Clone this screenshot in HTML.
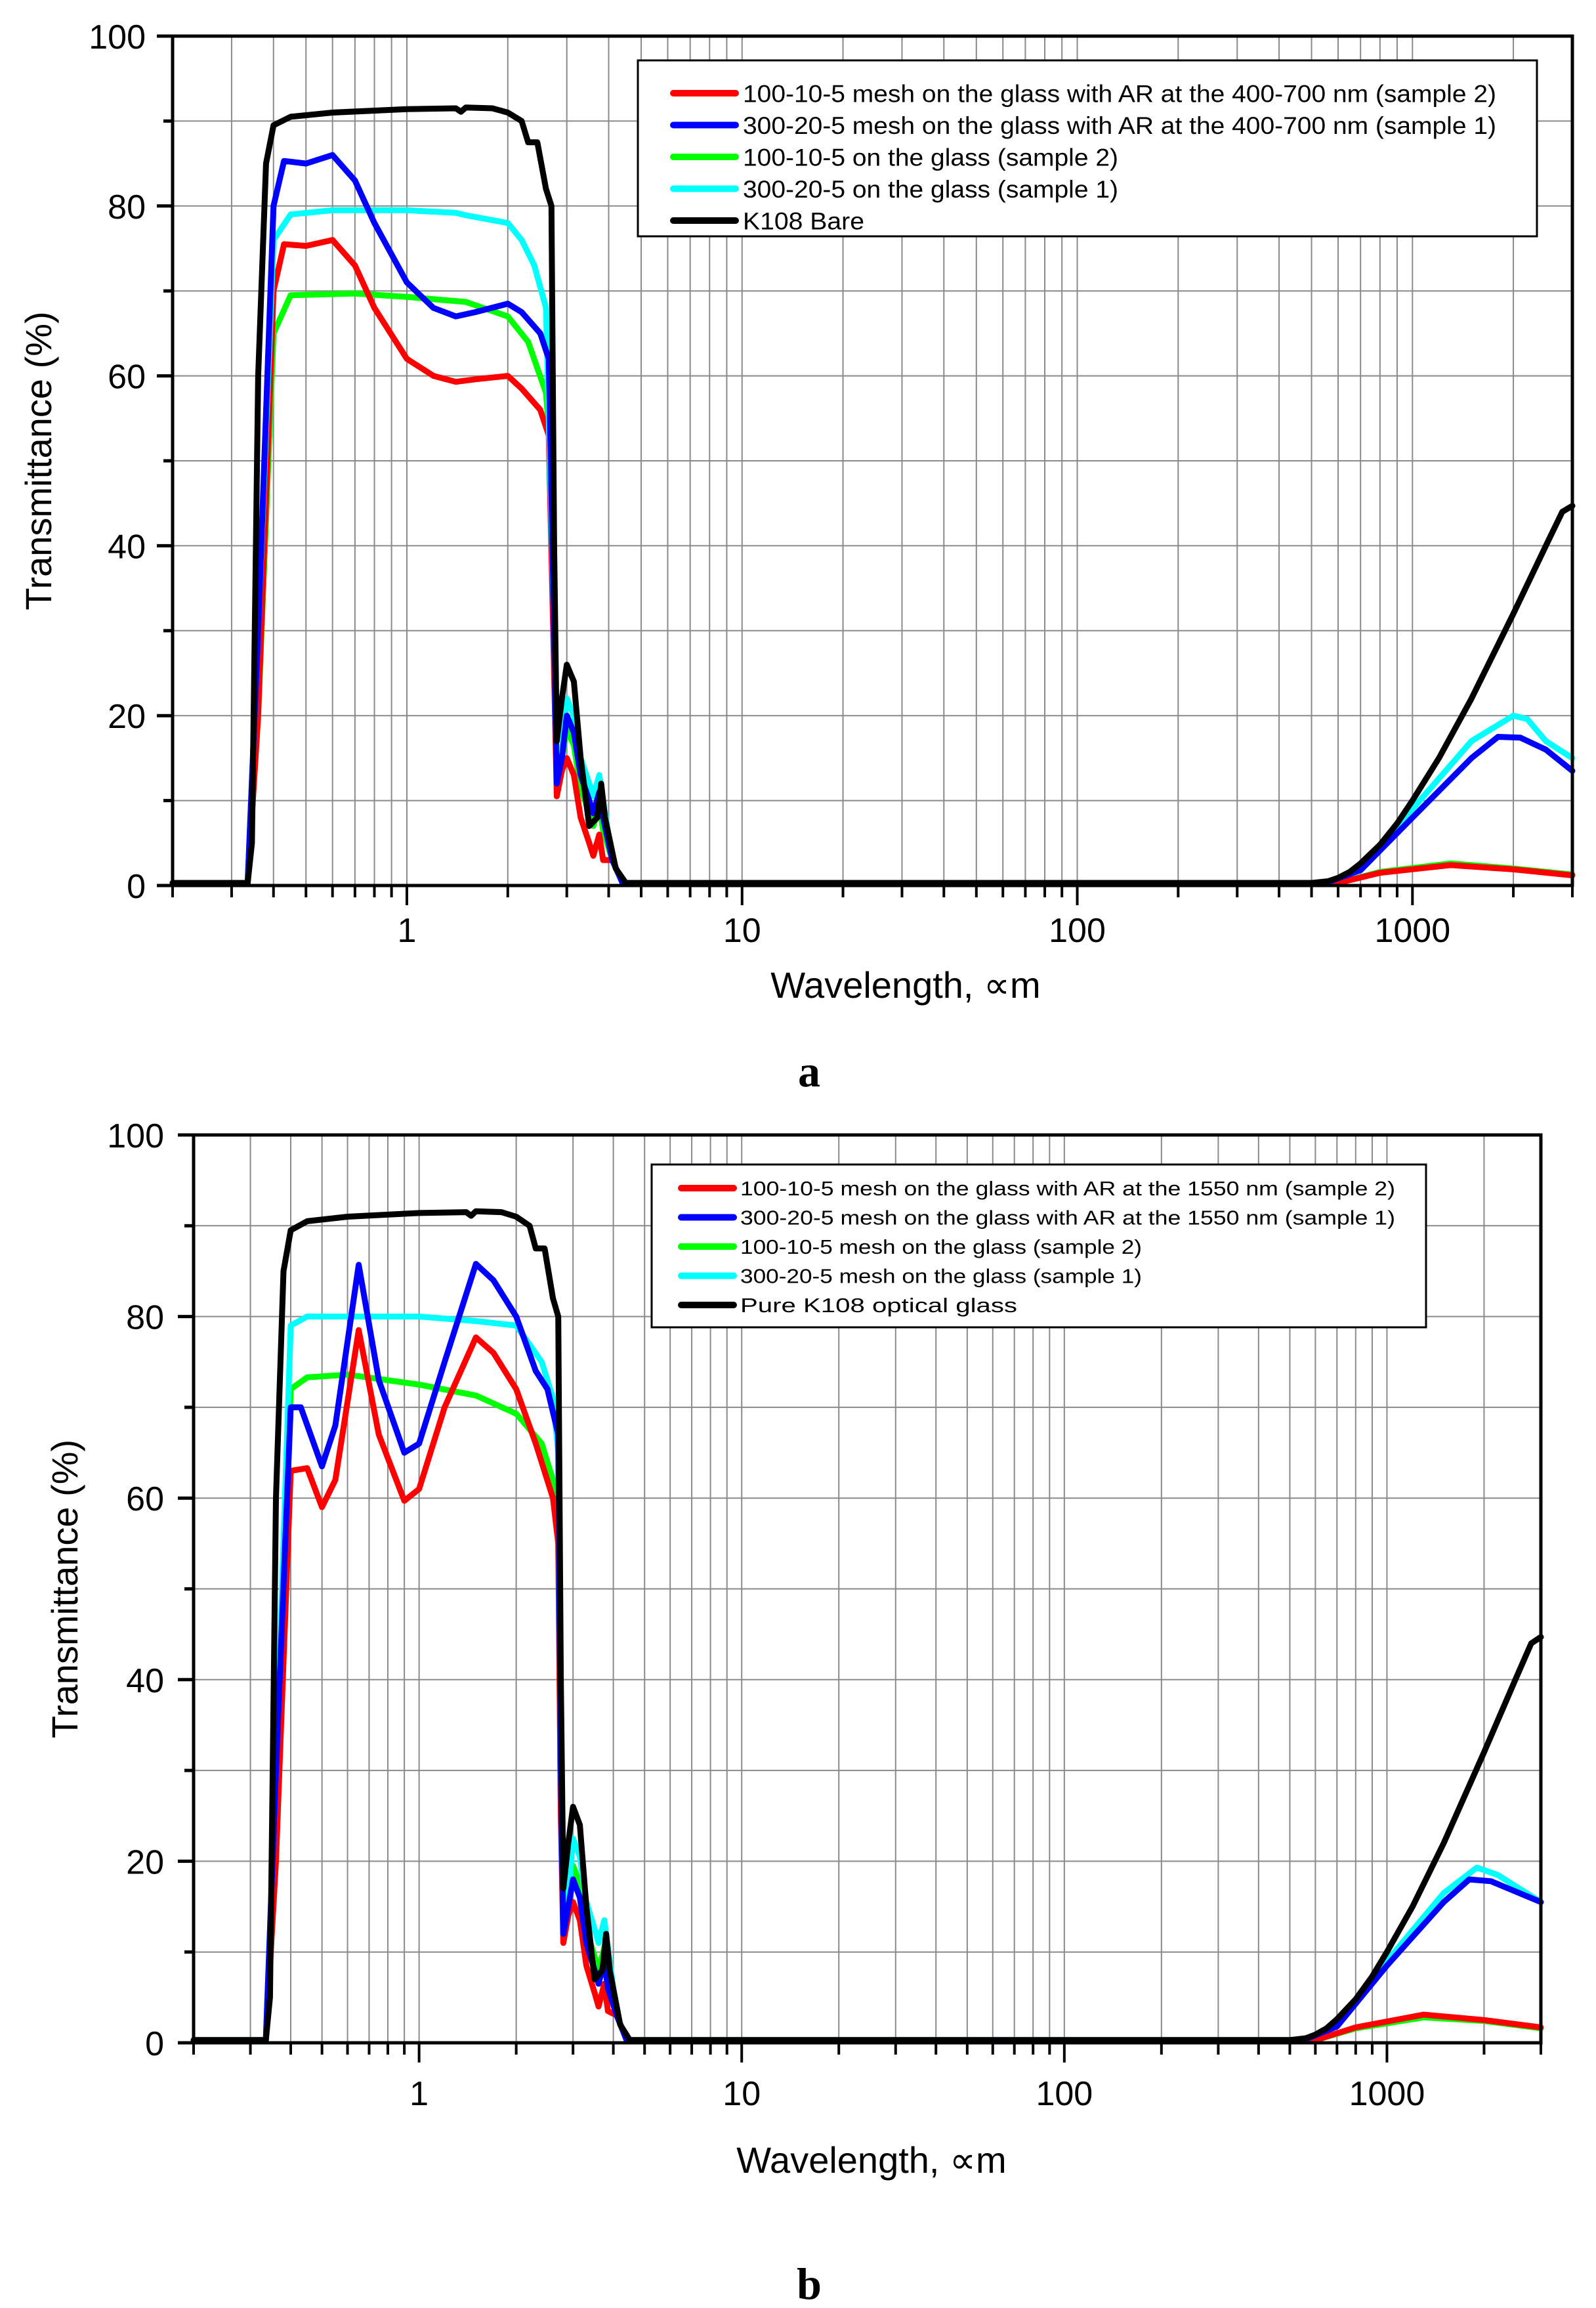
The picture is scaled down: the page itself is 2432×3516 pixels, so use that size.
<!DOCTYPE html>
<html><head><meta charset="utf-8"><style>
html,body{margin:0;padding:0;background:#fff}
svg{display:block}
text{font-family:"Liberation Sans",sans-serif;fill:#000}
</style></head><body>
<svg id="s" width="2432" height="3516" viewBox="0 0 2432 3516" xmlns="http://www.w3.org/2000/svg"></svg>
<script>
const S=document.getElementById('s');let h='';
function chart(c){
 const {L,R,T,B}=c;const lx0=Math.log10(0.2),lx1=Math.log10(3000);
 const X=w=>L+(Math.log10(w)-lx0)/(lx1-lx0)*(R-L);
 const Y=t=>B-(t/100)*(B-T);
 for(let d=-1;d<=3;d++)for(let m=1;m<=9;m++){const w=m*Math.pow(10,d);if(w<=0.2||w>=3000)continue;
  h+=`<line x1="${X(w)}" y1="${T}" x2="${X(w)}" y2="${B}" stroke="#8a8a8a" stroke-width="2"/>`;
  const big=(m==1);h+=`<line x1="${X(w)}" y1="${B}" x2="${X(w)}" y2="${B+(big?30:18)}" stroke="#000" stroke-width="4"/>`;}
 for(let t=10;t<100;t+=10){h+=`<line x1="${L}" y1="${Y(t)}" x2="${R}" y2="${Y(t)}" stroke="#8a8a8a" stroke-width="2"/>`;
  h+=`<line x1="${L-(t%20==0?24:14)}" y1="${Y(t)}" x2="${L}" y2="${Y(t)}" stroke="#000" stroke-width="5"/>`;}
 h+=`<line x1="${L-24}" y1="${T}" x2="${L}" y2="${T}" stroke="#000" stroke-width="5"/><line x1="${L-24}" y1="${B}" x2="${L}" y2="${B}" stroke="#000" stroke-width="5"/>`;
 h+=`<line x1="${L}" y1="${B}" x2="${L}" y2="${B+18}" stroke="#000" stroke-width="4"/><line x1="${R}" y1="${B}" x2="${R}" y2="${B+18}" stroke="#000" stroke-width="4"/>`;
 for(let t=0;t<=100;t+=20)h+=`<text x="${c.yl}" y="${Y(t)+19}" font-size="52" text-anchor="end">${t}</text>`;
 [1,10,100,1000].forEach(w=>h+=`<text x="${X(w)}" y="${c.xly}" font-size="52" text-anchor="middle">${w}</text>`);
 c.series.forEach(s=>{const p=s.p.map(q=>X(q[0]).toFixed(1)+','+Y(q[1]).toFixed(1)).join(' ');
  h+=`<polyline points="${p}" fill="none" stroke="${s.c}" stroke-width="${c.lw}" stroke-linejoin="round" stroke-linecap="round"/>`;});
 h+=`<rect x="${L}" y="${T}" width="${R-L}" height="${B-T}" fill="none" stroke="#000" stroke-width="5"/>`;
 const g=c.leg;h+=`<rect x="${g.x}" y="${g.y}" width="${g.w}" height="${g.h}" fill="#fff" stroke="#000" stroke-width="3"/>`;
 g.items.forEach((it,i)=>{const cy=g.y0+i*g.dy;
  h+=`<line x1="${g.lx1}" y1="${cy}" x2="${g.lx2}" y2="${cy}" stroke="${it[0]}" stroke-width="10" stroke-linecap="round"/>`;
  h+=`<text x="${g.tx}" y="${cy+g.fs*0.36}" font-size="${g.fs}" ${it[2]?`textLength="${it[2]}" lengthAdjust="spacingAndGlyphs"`:''}>${it[1]}</text>`;});
 h+=`<text transform="translate(${c.ytx},${(T+B)/2}) rotate(-90)" font-size="56" text-anchor="middle">Transmittance (%)</text>`;
 h+=`<text x="${c.xtx}" y="${c.xty}" font-size="56" text-anchor="middle">Wavelength, ∝m</text>`;
 h+=`<text x="1233" y="${c.lety}" font-size="68" font-weight="bold" text-anchor="middle" style="font-family:'Liberation Serif',serif">${c.let}</text>`;
}
const z=[[0.2,0.3],[0.335,0.3]];
const mid=(a,b,c)=>[[2.75,a],[2.8,b],[2.9,b+3],[3.0,c],[3.15,c-2],[3.3,c-7],[3.5,c-10],[3.6,c-11.5],[3.75,c-9],[3.85,c-12],[4.1,3],[4.4,0.3],[500,0.3]];
const blackA=[...z,[0.345,5],[0.36,60],[0.38,85],[0.4,89.5],[0.45,90.5],[0.6,91],[1,91.4],[1.4,91.5],[1.45,91.1],[1.5,91.6],[1.8,91.5],[2,91],[2.2,90],[2.3,87.5],[2.45,87.5],[2.6,82],[2.7,80],[2.75,40],[2.8,17],[2.9,22],[3.0,26],[3.15,24],[3.3,15],[3.5,7],[3.7,8],[3.8,12],[3.9,8],[4.2,2],[4.5,0.3],[500,0.3],[560,0.5],[600,0.9],[650,1.6],[700,2.6],[800,4.8],[900,7.3],[1000,10],[1200,15],[1500,22],[2000,32],[2500,40],[2800,44],[3000,44.7]];
const A={L:263,R:2396,T:55,B:1349,yl:222,xly:1435,lw:9,ytx:78,xtx:1380,xty:1520,lety:1655,let:'a',
series:[
{c:'#00ff00',p:[...z,[0.36,20],[0.4,65],[0.45,69.5],[0.7,69.7],[1,69.3],[1.5,68.7],[2,67],[2.3,64],[2.6,58],[2.7,50],...mid(25,12,18.5),[600,0.3],[800,1.6],[1300,2.6],[2000,2],[3000,1.3]]},
{c:'#ff0000',p:[...z,[0.36,20],[0.4,70],[0.43,75.5],[0.5,75.3],[0.6,76],[0.7,73],[0.8,68],[1,62],[1.2,60],[1.4,59.3],[1.6,59.6],[2,60],[2.2,58.5],[2.5,56],[2.65,53],...mid(25,10.5,15),[600,0.3],[800,1.5],[1300,2.4],[2000,1.9],[3000,1.2]]},
{c:'#00ffff',p:[...z,[0.36,30],[0.4,76],[0.45,79],[0.6,79.5],[1,79.5],[1.4,79.2],[1.5,78.9],[2,78],[2.2,76],[2.4,73],[2.6,68],...mid(30,13,22),[550,0.3],[700,2],[1000,9],[1500,17],[2000,20],[2200,19.6],[2500,17],[3000,15]]},
{c:'#0000ff',p:[...z,[0.36,30],[0.4,80],[0.43,85.3],[0.5,85],[0.6,86],[0.7,83],[0.8,78],[1,71],[1.2,68],[1.4,67],[1.6,67.5],[2,68.5],[2.2,67.5],[2.5,65],[2.65,62],...mid(30,12,20),[550,0.3],[700,1.8],[1000,8],[1500,15],[1800,17.5],[2100,17.4],[2500,16],[3000,13.5]]},
{c:'#000',p:blackA}],
leg:{x:972,y:92,w:1370,h:268,y0:142,dy:48.5,lx1:1026,lx2:1121,tx:1132,fs:37,items:[
['#ff0000','100-10-5 mesh on the glass with AR at the 400-700 nm (sample 2)',1148],
['#0000ff','300-20-5 mesh on the glass with AR at the 400-700 nm (sample 1)',1148],
['#00ff00','100-10-5 on the glass (sample 2)',572],
['#00ffff','300-20-5 on the glass (sample 1)',572],
['#000','K108 Bare',185]]}};
const B={L:295,R:2348,T:1729,B:3112,yl:250,xly:3207,lw:9,ytx:118,xtx:1328,xty:3310,lety:3502,let:'b',
series:[
{c:'#00ff00',p:[...z,[0.36,25],[0.4,72],[0.45,73.3],[0.6,73.6],[1,72.5],[1.5,71.3],[2,69.3],[2.4,66],[2.6,62],[2.7,55],...mid(25,12,19.5),[600,0.3],[800,1.6],[1300,2.8],[2000,2.4],[3000,1.6]]},
{c:'#ff0000',p:[...z,[0.36,20],[0.4,63],[0.45,63.3],[0.5,59],[0.55,62],[0.65,78.5],[0.75,67],[0.9,59.7],[1.0,61],[1.2,70],[1.5,77.7],[1.7,76],[2,72],[2.3,66],[2.6,60],[2.7,55],...mid(25,11,15.5),[600,0.3],[800,1.7],[1300,3.1],[2000,2.5],[3000,1.7]]},
{c:'#00ffff',p:[...z,[0.36,30],[0.4,79],[0.45,80],[0.6,80],[1,80],[1.5,79.5],[2,79],[2.4,75],[2.6,71],[2.7,65],...mid(30,13,22.5),[550,0.3],[700,2],[1000,9],[1500,16.5],[1900,19.3],[2200,18.5],[3000,15.5]]},
{c:'#0000ff',p:[...z,[0.36,30],[0.4,70],[0.43,70],[0.5,63.5],[0.55,68],[0.65,85.7],[0.75,73],[0.9,65],[1.0,66],[1.2,75],[1.5,85.8],[1.7,84],[2,80],[2.3,74],[2.5,72],[2.7,67],...mid(30,12,18),[550,0.3],[700,1.8],[1000,8.5],[1500,15.5],[1800,18],[2100,17.8],[3000,15.5]]},
{c:'#000',p:blackA}],
leg:{x:993,y:1774,w:1180,h:248,y0:1810,dy:44.5,lx1:1038,lx2:1118,tx:1128,fs:31,items:[
['#ff0000','100-10-5 mesh on the glass with AR at the 1550 nm  (sample 2)',998],
['#0000ff','300-20-5 mesh on the glass with AR at the 1550 nm  (sample 1)',998],
['#00ff00','100-10-5 mesh on the glass (sample 2)',612],
['#00ffff','300-20-5 mesh on the glass (sample 1)',612],
['#000','Pure K108 optical glass',422]]}};
chart(A);chart(B);S.innerHTML=h;
</script>
</body></html>
